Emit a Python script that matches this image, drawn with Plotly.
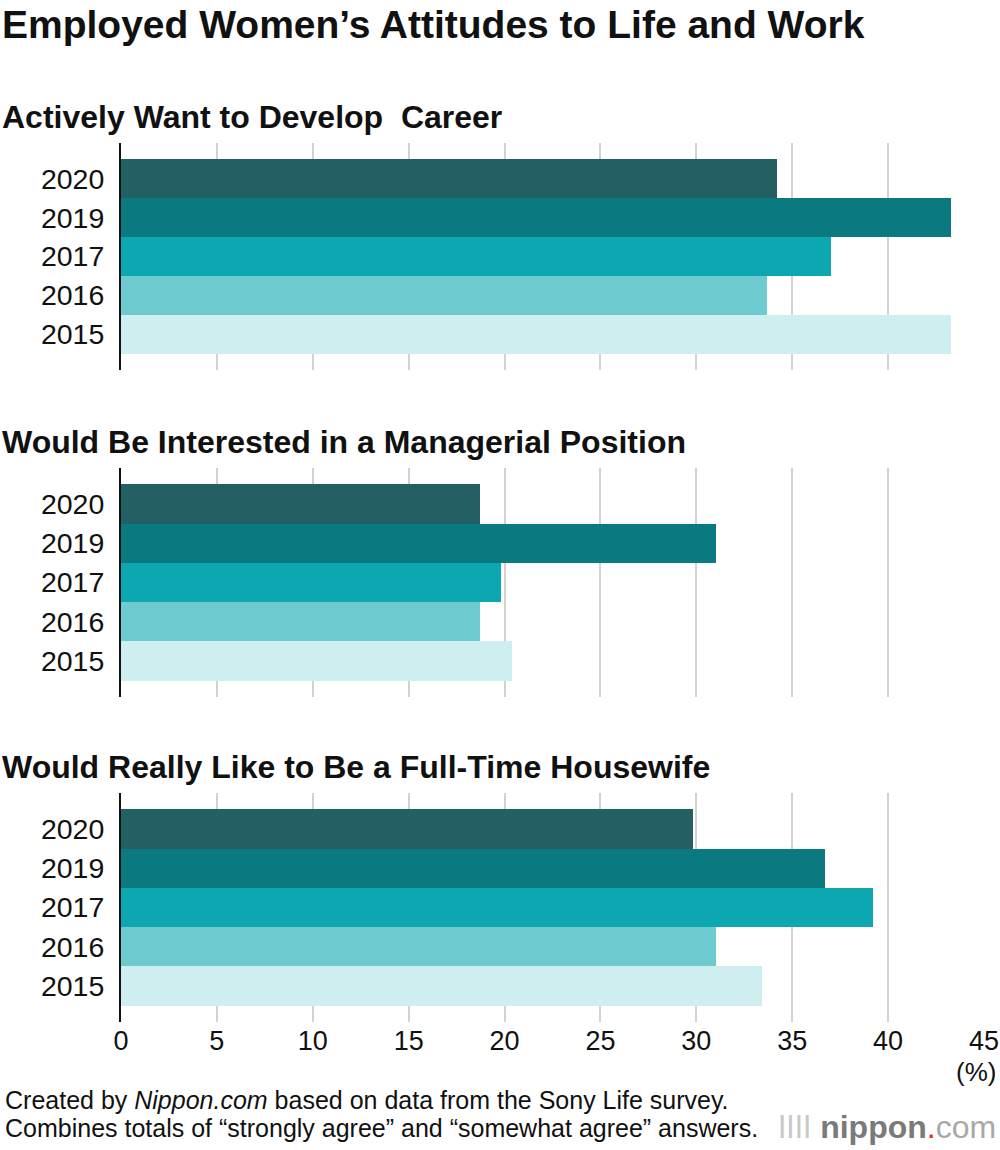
import plotly.graph_objects as go

years = ["2020", "2019", "2017", "2016", "2015"]
colors = ["#245f63", "#0b7a80", "#0ca7b0", "#6dcbcf", "#cfeeef"]

panel_titles = [
    "Actively Want to Develop  Career",
    "Would Be Interested in a Managerial Position",
    "Would Really Like to Be a Full-Time Housewife",
]
career = [34.2, 43.3, 37.0, 33.7, 43.3]
managerial = [18.7, 31.0, 19.8, 18.7, 20.4]
housewife = [29.8, 36.7, 39.2, 31.0, 33.4]
panels = [career, managerial, housewife]

x_ticks = [0, 5, 10, 15, 20, 25, 30, 35, 40, 45]

W, H = 1000, 1150
FONT = "Liberation Sans, Arial, Helvetica, sans-serif"

def py(pix):
    return 1 - pix / H

domains = [(143, 370), (468, 697), (793, 1022)]
title_y = [117, 442, 767]

fig = go.Figure()
layout = dict(
    width=W, height=H,
    margin=dict(l=0, r=0, t=0, b=0, autoexpand=False),
    paper_bgcolor="white", plot_bgcolor="white",
    showlegend=False, bargap=0,
    font=dict(family=FONT, color="#111111"),
)

for i, vals in enumerate(panels):
    n = i + 1
    xa = "x" if n == 1 else f"x{n}"
    ya = "y" if n == 1 else f"y{n}"
    fig.add_trace(go.Bar(
        x=vals, y=years, orientation="h",
        marker=dict(color=colors, line=dict(width=0)),
        xaxis=xa, yaxis=ya, hoverinfo="x+y",
    ))
    top, bot = domains[i]
    layout[f"xaxis{'' if n == 1 else n}"] = dict(
        domain=[0.121, 0.984], range=[0, 45], anchor=ya,
        tickvals=x_ticks, showticklabels=(n == 3),
        showgrid=True, gridcolor="#d2d2d2", gridwidth=2,
        zeroline=False, showline=False, ticks="",
        tickfont=dict(size=27, color="#111111"),
        ticklabelstandoff=0, fixedrange=True, automargin=False,
    )
    layout[f"yaxis{'' if n == 1 else n}"] = dict(
        domain=[py(bot), py(top)], anchor=xa,
        type="category", categoryarray=years, categoryorder="array",
        range=[4.92, -0.92],
        showgrid=False, zeroline=False,
        showline=True, linecolor="#111111", linewidth=2,
        ticks="", ticklabelstandoff=9,
        tickfont=dict(size=28.5, color="#111111"), fixedrange=True,
        automargin=False,
    )

annotations = [
    dict(text="<b>Employed Women’s Attitudes to Life and Work</b>", x=0.0, y=py(25),
         xanchor="left", yanchor="middle", font=dict(size=39, color="#111111")),
]
for t, yy in zip(panel_titles, title_y):
    annotations.append(dict(text=f"<b>{t}</b>", x=0.0, y=py(yy), xanchor="left",
                            yanchor="middle", font=dict(size=32, color="#111111")))
annotations += [
    dict(text="(%)", x=0.998, y=py(1072), xanchor="right", yanchor="middle",
         font=dict(size=26, color="#111111")),
    dict(text="Created by <i>Nippon.com</i> based on data from the Sony Life survey.",
         x=0.003, y=py(1100), xanchor="left", yanchor="middle",
         font=dict(size=25, color="#111111")),
    dict(text="Combines totals of “strongly agree” and “somewhat agree” answers.",
         x=0.003, y=py(1128), xanchor="left", yanchor="middle",
         font=dict(size=25, color="#111111")),
    dict(text="<span style='color:#c8c8c8'>ǀǀǀǀ</span> <b><span style='color:#7a7a7a'>nippon</span></b>"
              "<span style='color:#e8202a'>.</span><span style='color:#a8a8a8'>com</span>",
         x=0.998, y=py(1127), xanchor="right", yanchor="middle",
         font=dict(size=32, color="#8a8a8a")),
]
for a in annotations:
    a.update(xref="paper", yref="paper", showarrow=False)
layout["annotations"] = annotations

fig.update_layout(**layout)
fig.write_html(
    "out.html",
    config={"displayModeBar": False},
    post_script="document.body.style.margin='0';document.body.style.overflow='hidden';",
)
